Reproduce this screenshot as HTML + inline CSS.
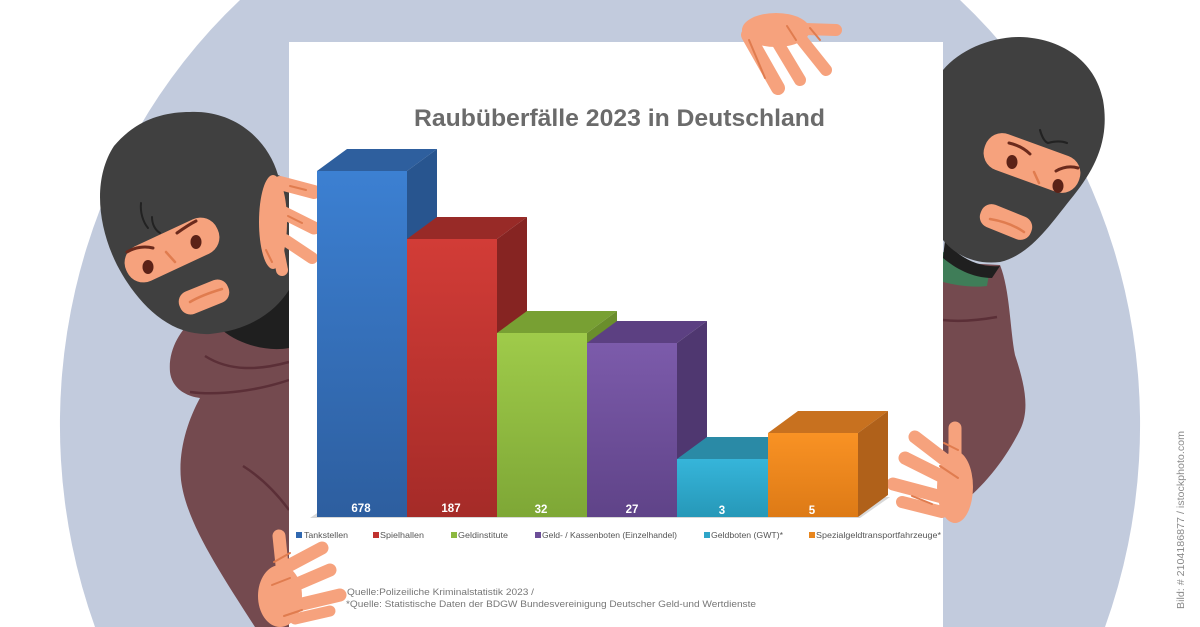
<!DOCTYPE html>
<html><head><meta charset="utf-8"><style>
html,body{margin:0;padding:0;background:#fff;width:1200px;height:627px;overflow:hidden;}
svg{display:block;position:absolute;left:0;top:0;}
</style></head><body>
<svg width="1200" height="627" viewBox="0 0 1200 627" xmlns="http://www.w3.org/2000/svg" font-family="Liberation Sans, sans-serif">
<defs>
<linearGradient id="gB" x1="0" y1="0" x2="0" y2="1"><stop offset="0" stop-color="#3c80d2"/><stop offset="1" stop-color="#2d5e9f"/></linearGradient>
<linearGradient id="gR" x1="0" y1="0" x2="0" y2="1"><stop offset="0" stop-color="#d23c37"/><stop offset="1" stop-color="#a52b28"/></linearGradient>
<linearGradient id="gG" x1="0" y1="0" x2="0" y2="1"><stop offset="0" stop-color="#9fcb4a"/><stop offset="1" stop-color="#7ea736"/></linearGradient>
<linearGradient id="gP" x1="0" y1="0" x2="0" y2="1"><stop offset="0" stop-color="#7c5bab"/><stop offset="1" stop-color="#5f4388"/></linearGradient>
<linearGradient id="gC" x1="0" y1="0" x2="0" y2="1"><stop offset="0" stop-color="#36b5da"/><stop offset="1" stop-color="#2698b8"/></linearGradient>
<linearGradient id="gO" x1="0" y1="0" x2="0" y2="1"><stop offset="0" stop-color="#f99224"/><stop offset="1" stop-color="#dd7a16"/></linearGradient>
</defs>

<!-- background blob (clipped to frame) -->
<path d="M240,0 A540,570 0 0,0 95,627 L1105,627 A540,570 0 0,0 960,0 Z" fill="#c2cbdd"/>

<!-- left character body -->
<path d="M195,318 C180,330 168,350 170,372 C172,388 185,396 200,398 C188,420 178,450 181,480 C186,520 215,565 255,627 L289,627 L289,300 Z" fill="#744a4f"/>
<path d="M205,356 C230,372 260,370 289,362" stroke="#5b2f37" stroke-width="2.5" fill="none"/>
<path d="M190,392 C220,396 260,390 289,380" stroke="#5b2f37" stroke-width="2.5" fill="none"/>
<path d="M243,466 C262,478 278,495 289,510" stroke="#5b2f37" stroke-width="2.5" fill="none"/>
<!-- left collar -->
<path d="M222,330 C245,322 265,300 278,280 L289,282 L289,348 C268,352 240,345 222,330 Z" fill="#1f1f1f"/>
<!-- left head -->
<path d="M190,112 C235,110 268,140 278,175 L289,180 L289,290 C275,312 250,330 210,334 C170,336 138,305 117,265 C97,225 93,178 114,146 C134,122 160,112 190,112 Z" fill="#404040"/>
<rect x="-50" y="-19" width="100" height="38" rx="18" transform="translate(172,250) rotate(-25)" fill="#f6a27d"/>
<ellipse cx="148" cy="267" rx="5.5" ry="7" fill="#5b2217"/>
<ellipse cx="196" cy="242" rx="5.5" ry="7" fill="#5b2217"/>
<path d="M127,252 C135,247 145,246 153,248" stroke="#6b2a1c" stroke-width="3" fill="none" stroke-linecap="round"/>
<path d="M177,233 C184,228 190,224 196,221" stroke="#6b2a1c" stroke-width="3" fill="none" stroke-linecap="round"/>
<path d="M166,252 L175,262" stroke="#e07c4f" stroke-width="2.5" stroke-linecap="round"/>
<path d="M141,203 C140,212 143,222 148,228" stroke="#222" stroke-width="2" fill="none" stroke-linecap="round"/>
<path d="M152,217 C152,224 155,230 160,233" stroke="#222" stroke-width="2" fill="none" stroke-linecap="round"/>
<rect x="-26" y="-12" width="52" height="24" rx="11" transform="translate(204,297) rotate(-22)" fill="#f6a27d"/>
<path d="M190,302 C200,296 212,292 222,289" stroke="#e07c4f" stroke-width="2.5" fill="none" stroke-linecap="round"/>

<!-- right character body -->
<path d="M943,262 L1000,265 C1010,290 1010,330 1015,355 C1025,385 1030,410 1020,430 C1005,460 985,485 960,505 L943,510 Z" fill="#744a4f"/>
<path d="M943,320 C960,322 980,320 997,317" stroke="#5b2f37" stroke-width="2.5" fill="none"/>
<path d="M943,252 C960,262 975,268 990,268 L987,286 C972,288 955,285 943,282 Z" fill="#3f7d58"/>
<path d="M945,240 C958,258 980,268 1000,266 L992,278 C972,278 955,268 943,258 Z" fill="#1f1f1f"/>
<!-- right head -->
<path d="M943,70 C960,50 990,37 1020,37 C1060,38 1095,60 1103,100 C1110,140 1095,170 1070,200 C1050,225 1030,255 1000,262 C975,265 955,255 943,240 Z" fill="#404040"/>
<rect x="-50" y="-19" width="100" height="38" rx="18" transform="translate(1032,163) rotate(20)" fill="#f6a27d"/>
<ellipse cx="1012" cy="162" rx="5.5" ry="7" fill="#5b2217"/>
<ellipse cx="1058" cy="186" rx="5.5" ry="7" fill="#5b2217"/>
<path d="M1009,143 C1018,145 1025,149 1030,154" stroke="#6b2a1c" stroke-width="3" fill="none" stroke-linecap="round"/>
<path d="M1056,171 C1063,167 1071,166 1078,168" stroke="#6b2a1c" stroke-width="3" fill="none" stroke-linecap="round"/>
<path d="M1034,172 L1039,183" stroke="#e07c4f" stroke-width="2.5" stroke-linecap="round"/>
<path d="M1040,130 C1042,137 1045,142 1048,143 C1055,141 1062,141 1067,143" stroke="#222" stroke-width="2.2" fill="none" stroke-linecap="round"/>
<rect x="-27" y="-12" width="54" height="24" rx="11" transform="translate(1006,222) rotate(22)" fill="#f6a27d"/>
<path d="M990,219 C1002,221 1014,225 1024,232" stroke="#e07c4f" stroke-width="2.5" fill="none" stroke-linecap="round"/>

<!-- board -->
<rect x="289" y="42" width="654" height="585" fill="#ffffff"/>

<!-- upper-left hand -->
<g stroke="#f6a27d" stroke-linecap="round" fill="none">
<line x1="280" y1="183" x2="314" y2="192" stroke-width="14"/>
<line x1="282" y1="212" x2="314" y2="228" stroke-width="13"/>
<line x1="285" y1="240" x2="312" y2="258" stroke-width="12"/>
<line x1="278" y1="250" x2="282" y2="270" stroke-width="12"/>
</g>
<ellipse cx="273" cy="222" rx="14" ry="47" fill="#f6a27d"/>
<g stroke="#e07c4f" stroke-width="2" stroke-linecap="round">
<line x1="290" y1="186" x2="306" y2="190"/>
<line x1="288" y1="216" x2="302" y2="223"/>
<line x1="266" y1="250" x2="272" y2="262"/>
</g>

<!-- top hand -->
<g stroke="#f6a27d" stroke-linecap="round" fill="none">
<line x1="748" y1="35" x2="778" y2="88" stroke-width="14"/>
<line x1="776" y1="40" x2="800" y2="80" stroke-width="12"/>
<line x1="798" y1="35" x2="826" y2="70" stroke-width="12"/>
<line x1="805" y1="29" x2="836" y2="30" stroke-width="12"/>
</g>
<ellipse cx="776" cy="30" rx="34" ry="17" fill="#f6a27d"/>
<g stroke="#e07c4f" stroke-width="2" stroke-linecap="round">
<line x1="749" y1="40" x2="765" y2="78"/>
<line x1="787" y1="26" x2="796" y2="40"/>
<line x1="810" y1="28" x2="820" y2="40"/>
</g>

<!-- lower-left hand -->
<g stroke="#f6a27d" stroke-linecap="round" fill="none">
<line x1="279" y1="536" x2="282" y2="565" stroke-width="13"/>
<line x1="290" y1="565" x2="322" y2="548" stroke-width="13"/>
<line x1="295" y1="585" x2="330" y2="570" stroke-width="13"/>
<line x1="298" y1="605" x2="340" y2="595" stroke-width="13"/>
<line x1="295" y1="619" x2="330" y2="611" stroke-width="11"/>
</g>
<ellipse cx="280" cy="596" rx="22" ry="31" fill="#f6a27d"/>
<g stroke="#e07c4f" stroke-width="2" stroke-linecap="round">
<line x1="274" y1="562" x2="290" y2="553"/>
<line x1="272" y1="585" x2="290" y2="578"/>
<line x1="284" y1="616" x2="302" y2="610"/>
</g>

<!-- lower-right hand -->
<g stroke="#f6a27d" stroke-linecap="round" fill="none">
<line x1="955" y1="428" x2="955" y2="455" stroke-width="13"/>
<line x1="945" y1="460" x2="915" y2="437" stroke-width="13"/>
<line x1="945" y1="478" x2="905" y2="458" stroke-width="13"/>
<line x1="942" y1="497" x2="893" y2="484" stroke-width="13"/>
<line x1="942" y1="512" x2="902" y2="502" stroke-width="12"/>
</g>
<ellipse cx="955" cy="487" rx="18" ry="36" fill="#f6a27d"/>
<g stroke="#e07c4f" stroke-width="2" stroke-linecap="round">
<line x1="944" y1="443" x2="958" y2="450"/>
<line x1="940" y1="466" x2="958" y2="478"/>
<line x1="912" y1="496" x2="932" y2="504"/>
</g>

<!-- title -->
<text x="414" y="126" font-size="24" font-weight="bold" fill="#6b6b6b" textLength="411" lengthAdjust="spacingAndGlyphs">Raubüberfälle 2023 in Deutschland</text>

<!-- floor -->
<polygon points="310,518 860,518 890,497 340,497" fill="#d8d8d8"/>

<!-- bars: top, side, front -->
<polygon points="317,171 407,171 437,149 347,149" fill="#2e5f9e"/>
<polygon points="407,171 437,149 437,495 407,517" fill="#28558f"/>
<rect x="317" y="171" width="90" height="346" fill="url(#gB)"/>
<polygon points="407,239 497,239 527,217 437,217" fill="#982a27"/>
<polygon points="497,239 527,217 527,495 497,517" fill="#862422"/>
<rect x="407" y="239" width="90" height="278" fill="url(#gR)"/>
<polygon points="497,333 587,333 617,311 527,311" fill="#78a033"/>
<polygon points="587,333 617,311 617,495 587,517" fill="#6a8e2c"/>
<rect x="497" y="333" width="90" height="184" fill="url(#gG)"/>
<polygon points="587,343 677,343 707,321 617,321" fill="#5c4082"/>
<polygon points="677,343 707,321 707,495 677,517" fill="#4f3770"/>
<rect x="587" y="343" width="90" height="174" fill="url(#gP)"/>
<polygon points="677,459 768,459 798,437 707,437" fill="#2a8aa6"/>
<polygon points="768,459 798,437 798,495 768,517" fill="#217b95"/>
<rect x="677" y="459" width="91" height="58" fill="url(#gC)"/>
<polygon points="768,433 858,433 888,411 798,411" fill="#c8711f"/>
<polygon points="858,433 888,411 888,495 858,517" fill="#b0611a"/>
<rect x="768" y="433" width="90" height="84" fill="url(#gO)"/>

<!-- value labels -->
<g font-size="11.5" font-weight="bold" fill="#ffffff" text-anchor="middle">
<text x="361" y="512">678</text>
<text x="451" y="512">187</text>
<text x="541" y="513">32</text>
<text x="632" y="513">27</text>
<text x="722" y="514">3</text>
<text x="812" y="514">5</text>
</g>

<!-- legend -->
<g font-size="8.5" fill="#555">
<rect x="296" y="532" width="6" height="6" fill="#3068b0"/>
<text x="304" y="538" textLength="44" lengthAdjust="spacingAndGlyphs">Tankstellen</text>
<rect x="373" y="532" width="6" height="6" fill="#c0322f"/>
<text x="380" y="538" textLength="44" lengthAdjust="spacingAndGlyphs">Spielhallen</text>
<rect x="451" y="532" width="6" height="6" fill="#8cb840"/>
<text x="458" y="538" textLength="50" lengthAdjust="spacingAndGlyphs">Geldinstitute</text>
<rect x="535" y="532" width="6" height="6" fill="#6c4e98"/>
<text x="542" y="538" textLength="135" lengthAdjust="spacingAndGlyphs">Geld- / Kassenboten (Einzelhandel)</text>
<rect x="704" y="532" width="6" height="6" fill="#2fa5c8"/>
<text x="711" y="538" textLength="72" lengthAdjust="spacingAndGlyphs">Geldboten (GWT)*</text>
<rect x="809" y="532" width="6" height="6" fill="#e8861e"/>
<text x="816" y="538" textLength="125" lengthAdjust="spacingAndGlyphs">Spezialgeldtransportfahrzeuge*</text>
</g>

<!-- source -->
<g font-size="9.5" fill="#777">
<text x="347" y="595" textLength="187" lengthAdjust="spacingAndGlyphs">Quelle:Polizeiliche Kriminalstatistik 2023 /</text>
<text x="346" y="607" textLength="410" lengthAdjust="spacingAndGlyphs">*Quelle: Statistische Daten der BDGW Bundesvereinigung Deutscher Geld-und Wertdienste</text>
</g>

<!-- watermark -->
<text transform="translate(1184,609) rotate(-90)" font-size="10" fill="#8a8a8a" textLength="178" lengthAdjust="spacingAndGlyphs">Bild: # 2104186877 / istockphoto.com</text>
</svg>
</body></html>
